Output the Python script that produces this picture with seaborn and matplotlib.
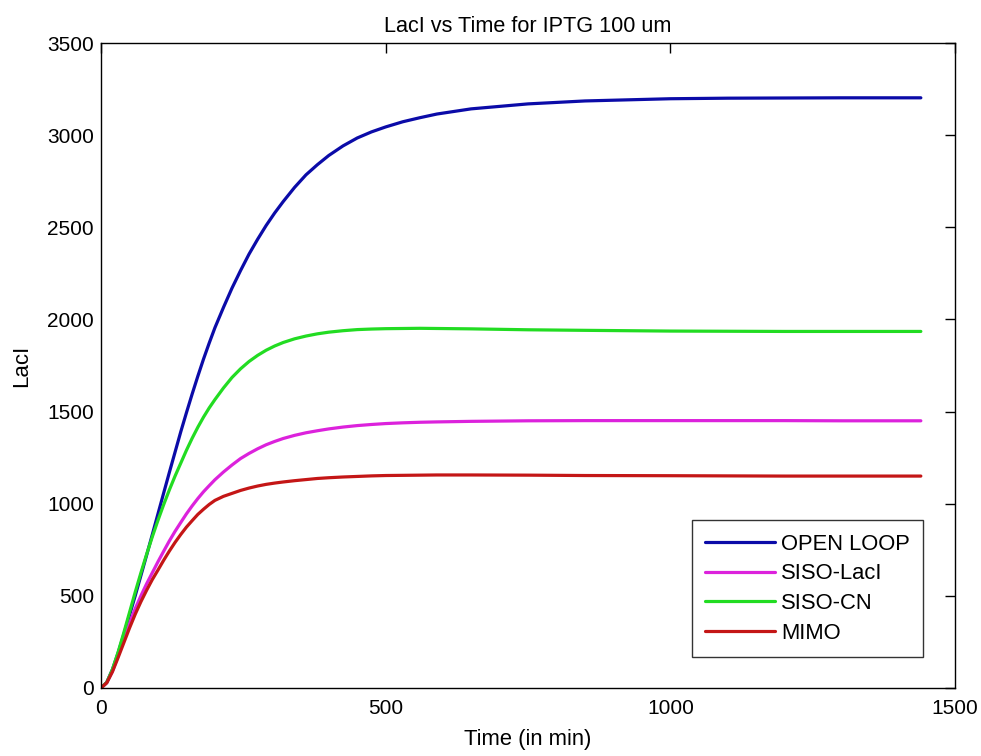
import numpy as np
import pandas as pd
import matplotlib
matplotlib.use("Agg")
import matplotlib.pyplot as plt
import seaborn as sns

# ---- data ----
time_min = [0, 10, 20, 30, 40, 50, 60, 70, 80, 90, 100, 110, 120, 130, 140, 150, 160, 170, 180, 190, 200,
            215, 230, 245, 260, 275, 290, 305, 320, 340, 360, 380, 400, 425, 450, 475, 500,
            530, 560, 590, 650, 750, 850, 1000, 1100, 1200, 1300, 1440]
open_loop = [0, 30, 100, 190, 290, 395, 500, 610, 720, 832, 945, 1058, 1170, 1280, 1390, 1494, 1595, 1692, 1785, 1872, 1955,
             2065, 2170, 2265, 2355, 2435, 2510, 2578, 2640, 2717, 2785, 2840, 2890, 2942, 2985, 3018, 3045,
             3073, 3095, 3115, 3143, 3170, 3186, 3198, 3201, 3202, 3203, 3203]
siso_laci = [0, 28, 90, 175, 265, 350, 430, 500, 565, 625, 685, 742, 798, 850, 898, 945, 988, 1028, 1065, 1098, 1130,
             1172, 1210, 1245, 1273, 1298, 1320, 1338, 1354, 1371, 1385, 1396, 1406, 1416, 1424, 1430, 1435,
             1439, 1442, 1444, 1447, 1450, 1451, 1451, 1451, 1451, 1450, 1450]
siso_cn = [0, 30, 100, 195, 300, 410, 520, 625, 725, 820, 910, 995, 1075, 1150, 1220, 1290, 1355, 1415, 1470, 1520, 1565,
           1628, 1685, 1732, 1772, 1805, 1833, 1856, 1875, 1895, 1910, 1922, 1931, 1939, 1945, 1948, 1950,
           1951, 1952, 1951, 1949, 1944, 1941, 1937, 1936, 1935, 1935, 1935]
mimo = [0, 28, 88, 165, 245, 325, 400, 468, 530, 588, 640, 693, 743, 790, 833, 873, 908, 942, 970, 996, 1018,
        1040, 1056, 1072, 1085, 1096, 1105, 1112, 1118, 1125, 1131, 1137, 1141, 1145, 1148, 1151, 1153,
        1154, 1155, 1156, 1156, 1155, 1153, 1152, 1151, 1150, 1150, 1150]

series_names = ["OPEN LOOP", "SISO-LacI", "SISO-CN", "MIMO"]
series_colors = ["#0b0ba8", "#dc22dc", "#22dc22", "#c41616"]
x_ticks = [0, 500, 1000, 1500]
y_ticks = [0, 500, 1000, 1500, 2000, 2500, 3000, 3500]

frames = []
for name, vals in zip(series_names, [open_loop, siso_laci, siso_cn, mimo]):
    frames.append(pd.DataFrame({"Time": time_min, "LacI": vals, "Series": name}))
df = pd.concat(frames, ignore_index=True)

sns.set_theme(style="white")
plt.rcParams["font.family"] = ["Liberation Sans", "DejaVu Sans"]
plt.rcParams["text.color"] = "black"
plt.rcParams["axes.labelcolor"] = "black"
plt.rcParams["xtick.color"] = "black"
plt.rcParams["ytick.color"] = "black"

fig = plt.figure(figsize=(9.81, 7.56), dpi=100)
ax = fig.add_axes([0.103, 0.090, 0.8705, 0.853])

sns.lineplot(data=df, x="Time", y="LacI", hue="Series", hue_order=series_names,
             palette=dict(zip(series_names, series_colors)), linewidth=2.3,
             estimator=None, sort=False, ax=ax)

ax.set_xlim(0, 1500)
ax.set_ylim(0, 3500)
ax.set_xticks(x_ticks)
ax.set_yticks(y_ticks)
ax.tick_params(direction="in", length=7, width=1, top=True, right=True,
               labelsize=15, colors="black")
ax.tick_params(axis="x", pad=8)
ax.tick_params(axis="y", pad=5)
for s in ax.spines.values():
    s.set_color("black")
    s.set_linewidth(1.0)
    s.set_visible(True)

ax.set_xlabel("Time (in min)", fontsize=15.8, color="black", labelpad=8)
ax.set_ylabel("LacI", fontsize=16, color="black", labelpad=11)
ax.set_title("LacI vs Time for IPTG 100 um", fontsize=15.6, color="black", pad=8)

leg = ax.legend(loc="lower right", bbox_to_anchor=(0.9625, 0.048), fontsize=15.8,
                frameon=True, fancybox=False, shadow=False, handlelength=3.2,
                handletextpad=0.25, labelspacing=0.4, borderpad=0.6,
                borderaxespad=0.0)
leg.get_frame().set_edgecolor("black")
leg.get_frame().set_linewidth(1.0)
for t in leg.get_texts():
    t.set_color("black")
for line in leg.get_lines():
    line.set_linewidth(2.3)

fig.savefig("out.png", dpi=100)
